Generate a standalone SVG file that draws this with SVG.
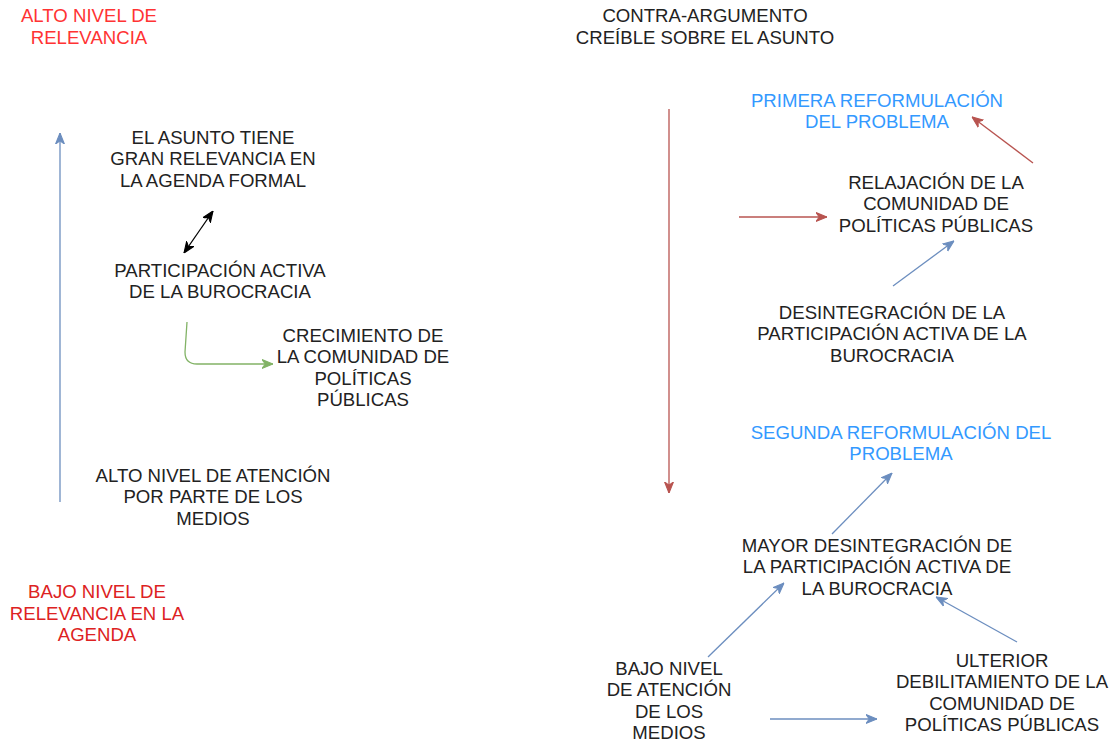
<svg xmlns="http://www.w3.org/2000/svg" width="1114" height="742" viewBox="0 0 1114 742">
<style>
text{font-family:"Liberation Sans",Arial,sans-serif;font-size:18.6px;text-anchor:middle;fill:#222}
.red1{fill:#FF3333}
.red2{fill:#DD2222}
.blu{fill:#3399FF}
.c{fill:none;stroke-width:1.3}
.b{stroke:#6C8EBF}
.r{stroke:#B85450}
.g{stroke:#82B366}
.k{stroke:#000}
</style>
<defs>
<marker id="mb" viewBox="0 0 10 10" refX="10" refY="5" markerWidth="11" markerHeight="11" markerUnits="userSpaceOnUse" orient="auto-start-reverse"><path d="M0,1 L10,5 L0,9 L3,5 Z" fill="#6C8EBF" stroke="#6C8EBF"/></marker>
<marker id="mr" viewBox="0 0 10 10" refX="10" refY="5" markerWidth="11" markerHeight="11" markerUnits="userSpaceOnUse" orient="auto-start-reverse"><path d="M0,1 L10,5 L0,9 L3,5 Z" fill="#B85450" stroke="#B85450"/></marker>
<marker id="mg" viewBox="0 0 10 10" refX="10" refY="5" markerWidth="11" markerHeight="11" markerUnits="userSpaceOnUse" orient="auto-start-reverse"><path d="M0,1 L10,5 L0,9 L3,5 Z" fill="#82B366" stroke="#82B366"/></marker>
<marker id="mk" viewBox="0 0 10 10" refX="10" refY="5" markerWidth="11" markerHeight="11" markerUnits="userSpaceOnUse" orient="auto-start-reverse"><path d="M0,1 L10,5 L0,9 L3,5 Z" fill="#000" stroke="#000"/></marker>
</defs>

<g id="connectors">
<path class="c b" d="M60 502 L60 133" marker-end="url(#mb)"/>
<path class="c k" d="M184 253 L213 211" marker-start="url(#mk)" marker-end="url(#mk)"/>
<path class="c g" d="M187 322 L185 352 Q185 364 197 364 L273 364" marker-end="url(#mg)"/>
<path class="c r" d="M669 109 L669 493" marker-end="url(#mr)"/>
<path class="c r" d="M1033 163 L972 117" marker-end="url(#mr)"/>
<path class="c r" d="M739 217 L827 217" marker-end="url(#mr)"/>
<path class="c b" d="M893 286 L954 241" marker-end="url(#mb)"/>
<path class="c b" d="M832 534 L892 473" marker-end="url(#mb)"/>
<path class="c b" d="M708 657 L784 583" marker-end="url(#mb)"/>
<path class="c b" d="M1017 642 L936 597" marker-end="url(#mb)"/>
<path class="c b" d="M770 719 L877 719" marker-end="url(#mb)"/>
</g>

<g id="alto-relevancia"><text class="red1" x="89" y="21.5">ALTO NIVEL DE</text><text class="red1" x="89" y="43.5">RELEVANCIA</text></g>
<g id="asunto-relevancia"><text x="213" y="143.5">EL ASUNTO TIENE</text><text x="213" y="165">GRAN RELEVANCIA EN</text><text x="213" y="186.5">LA AGENDA FORMAL</text></g>
<g id="participacion"><text x="220" y="276.5">PARTICIPACIÓN ACTIVA</text><text x="220" y="298">DE LA BUROCRACIA</text></g>
<g id="crecimiento"><text x="363" y="341.5">CRECIMIENTO DE</text><text x="363" y="363">LA COMUNIDAD DE</text><text x="363" y="384.5">POLÍTICAS</text><text x="363" y="406">PÚBLICAS</text></g>
<g id="alto-atencion"><text x="213" y="481.5">ALTO NIVEL DE ATENCIÓN</text><text x="213" y="503">POR PARTE DE LOS</text><text x="213" y="524.5">MEDIOS</text></g>
<g id="bajo-relevancia"><text class="red2" x="97" y="598">BAJO NIVEL DE</text><text class="red2" x="97" y="619.5">RELEVANCIA EN LA</text><text class="red2" x="97" y="641">AGENDA</text></g>

<g id="contra-argumento"><text x="705" y="22">CONTRA-ARGUMENTO</text><text x="705" y="43.5">CREÍBLE SOBRE EL ASUNTO</text></g>
<g id="primera"><text class="blu" x="877" y="106.5">PRIMERA REFORMULACIÓN</text><text class="blu" x="877" y="128">DEL PROBLEMA</text></g>
<g id="relajacion"><text x="936" y="188.5">RELAJACIÓN DE LA</text><text x="936" y="210">COMUNIDAD DE</text><text x="936" y="231.5">POLÍTICAS PÚBLICAS</text></g>
<g id="desintegracion"><text x="892" y="318.5">DESINTEGRACIÓN DE LA</text><text x="892" y="340">PARTICIPACIÓN ACTIVA DE LA</text><text x="892" y="361.5">BUROCRACIA</text></g>
<g id="segunda"><text class="blu" x="901" y="438.5">SEGUNDA REFORMULACIÓN DEL</text><text class="blu" x="901" y="460">PROBLEMA</text></g>
<g id="mayor-desintegracion"><text x="877" y="551.5">MAYOR DESINTEGRACIÓN DE</text><text x="877" y="573">LA PARTICIPACIÓN ACTIVA DE</text><text x="877" y="594.5">LA BUROCRACIA</text></g>
<g id="bajo-atencion"><text x="669" y="674.5">BAJO NIVEL</text><text x="669" y="696">DE ATENCIÓN</text><text x="669" y="717.5">DE LOS</text><text x="669" y="739">MEDIOS</text></g>
<g id="ulterior"><text x="1002" y="666.5">ULTERIOR</text><text x="1002" y="688">DEBILITAMIENTO DE LA</text><text x="1002" y="709.5">COMUNIDAD DE</text><text x="1002" y="731">POLÍTICAS PÚBLICAS</text></g>
</svg>
